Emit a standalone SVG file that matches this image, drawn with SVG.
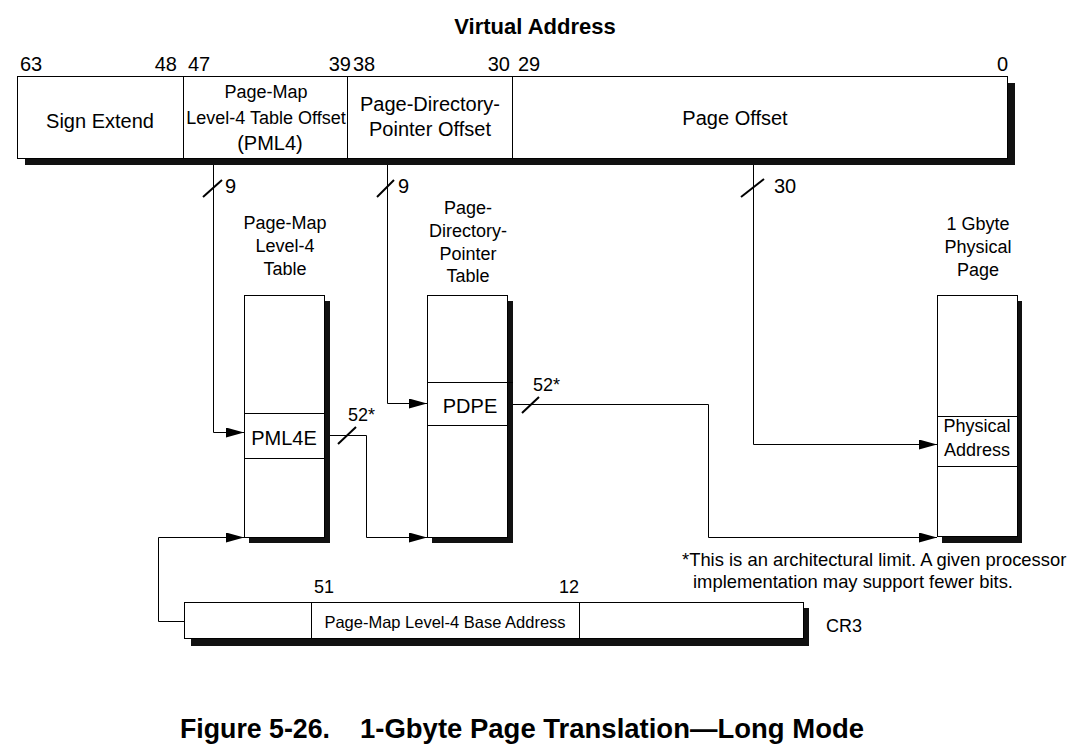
<svg xmlns="http://www.w3.org/2000/svg" width="1075" height="752" viewBox="0 0 1075 752">
<defs>
<style>
text{font-family:"Liberation Sans",Arial,sans-serif;fill:#000}
.t20{font-size:20px}
.t18{font-size:18px}
.t16{font-size:16.5px}
.fn{font-size:18.4px}
.c{text-anchor:middle}
.e{text-anchor:end}
.b{font-weight:bold}
.box{fill:#fff;stroke:#000;stroke-width:1}
.sh{fill:#111}
.ln{fill:none;stroke:#000;stroke-width:1}
.sl{fill:none;stroke:#000;stroke-width:2}
.cap{font-family:"Liberation Sans Narrow","Liberation Sans",Arial,sans-serif;font-weight:bold;font-size:27px}
</style>
<marker id="ar" markerUnits="userSpaceOnUse" markerWidth="18" markerHeight="10" refX="18" refY="5" orient="auto">
<path d="M0,0 L18,5 L0,10 z" fill="#000"/>
</marker>
</defs>
<rect width="1075" height="752" fill="#fff"/>

<text class="b c" x="535" y="34" style="font-size:22px">Virtual Address</text>

<g id="virtual-address">
<rect class="sh" x="25" y="83" width="990" height="82"/>
<rect class="box" x="17.5" y="76.5" width="990" height="82"/>
<line class="ln" x1="183.5" y1="76" x2="183.5" y2="158"/>
<line class="ln" x1="347.5" y1="76" x2="347.5" y2="158"/>
<line class="ln" x1="512.5" y1="76" x2="512.5" y2="158"/>
<text class="t20" x="20" y="71">63</text>
<text class="t20 e" x="177" y="71">48</text>
<text class="t20" x="188" y="71">47</text>
<text class="t20 e" x="351" y="71">39</text>
<text class="t20" x="353" y="71">38</text>
<text class="t20 e" x="510" y="71">30</text>
<text class="t20" x="518" y="71">29</text>
<text class="t20 e" x="1008" y="71">0</text>
<text class="t20 c" x="100" y="128">Sign Extend</text>
<text class="t18 c" x="266" y="98">Page-Map</text>
<text class="t18 c" x="266" y="124">Level-4 Table Offset</text>
<text class="t20 c" x="270" y="150">(PML4)</text>
<text class="t20 c" x="430" y="111">Page-Directory-</text>
<text class="t20 c" x="430" y="136">Pointer Offset</text>
<text class="t20 c" x="735" y="125">Page Offset</text>
</g>

<g id="pml4-table">
<text class="t18 c" x="285" y="229">Page-Map</text>
<text class="t18 c" x="285" y="252">Level-4</text>
<text class="t18 c" x="285" y="275">Table</text>
<rect class="sh" x="249" y="301" width="81" height="242"/>
<rect class="box" x="244.5" y="295.5" width="80" height="242"/>
<rect class="box" x="244.5" y="413.5" width="80" height="45"/>
<text class="t20 c" x="284" y="445">PML4E</text>
</g>

<g id="pdp-table">
<text class="t18 c" x="468" y="214">Page-</text>
<text class="t18 c" x="468" y="237">Directory-</text>
<text class="t18 c" x="468" y="260">Pointer</text>
<text class="t18 c" x="468" y="282">Table</text>
<rect class="sh" x="432" y="301" width="81" height="242"/>
<rect class="box" x="427.5" y="295.5" width="80" height="242"/>
<rect class="box" x="427.5" y="382.5" width="80" height="43"/>
<line class="ln" x1="507" y1="382.5" x2="513" y2="382.5"/>
<text class="t20 c" x="470" y="413">PDPE</text>
</g>

<g id="physical-page">
<text class="t18 c" x="978" y="230">1 Gbyte</text>
<text class="t18 c" x="978" y="253">Physical</text>
<text class="t18 c" x="978" y="276">Page</text>
<rect class="sh" x="942" y="301" width="80" height="242"/>
<rect class="box" x="937.5" y="295.5" width="80" height="241"/>
<rect class="box" x="937.5" y="416.5" width="80" height="50"/>
<text class="t18 c" x="977" y="432">Physical</text>
<text class="t18 c" x="977" y="456">Address</text>
</g>

<g id="cr3">
<rect class="sh" x="191" y="608" width="618" height="38"/>
<rect class="box" x="184.5" y="602.5" width="619" height="36"/>
<line class="ln" x1="311.5" y1="602" x2="311.5" y2="639"/>
<line class="ln" x1="579.5" y1="602" x2="579.5" y2="639"/>
<text class="t18" x="314" y="593">51</text>
<text class="t18" x="559" y="593">12</text>
<text class="t16 c" x="445" y="628">Page-Map Level-4 Base Address</text>
<text class="t18" x="826" y="632">CR3</text>
</g>

<g id="connectors">
<polyline class="ln" points="213.5,165 213.5,432.5 244,432.5" marker-end="url(#ar)"/>
<line class="sl" x1="203" y1="197" x2="222" y2="180"/>
<text class="t20" x="225" y="193">9</text>

<polyline class="ln" points="387.5,165 387.5,403.5 427,403.5" marker-end="url(#ar)"/>
<line class="sl" x1="377" y1="197" x2="394" y2="180"/>
<text class="t20" x="398" y="193">9</text>

<polyline class="ln" points="753.5,165 753.5,444.5 937,444.5" marker-end="url(#ar)"/>
<line class="sl" x1="741" y1="197" x2="764" y2="179"/>
<text class="t20" x="774" y="193">30</text>

<polyline class="ln" points="330,435.5 366.5,435.5 366.5,537.5 427,537.5" marker-end="url(#ar)"/>
<line class="sl" x1="338" y1="444" x2="356" y2="427"/>
<text class="t18" x="348" y="421">52*</text>

<polyline class="ln" points="513,404.5 708.5,404.5 708.5,537.5 937,537.5" marker-end="url(#ar)"/>
<line class="sl" x1="522" y1="413" x2="539" y2="397"/>
<text class="t18" x="533" y="391">52*</text>

<polyline class="ln" points="184,621.5 158.5,621.5 158.5,537.5 244,537.5" marker-end="url(#ar)"/>
</g>

<text class="fn" x="682" y="566">*This is an architectural limit. A given processor</text>
<text class="fn" x="693" y="588">implementation may support fewer bits.</text>

<text class="cap" x="180" y="738" textLength="150" lengthAdjust="spacingAndGlyphs">Figure 5-26.</text>
<text class="cap" x="360" y="738" textLength="504" lengthAdjust="spacingAndGlyphs">1-Gbyte Page Translation—Long Mode</text>
</svg>
